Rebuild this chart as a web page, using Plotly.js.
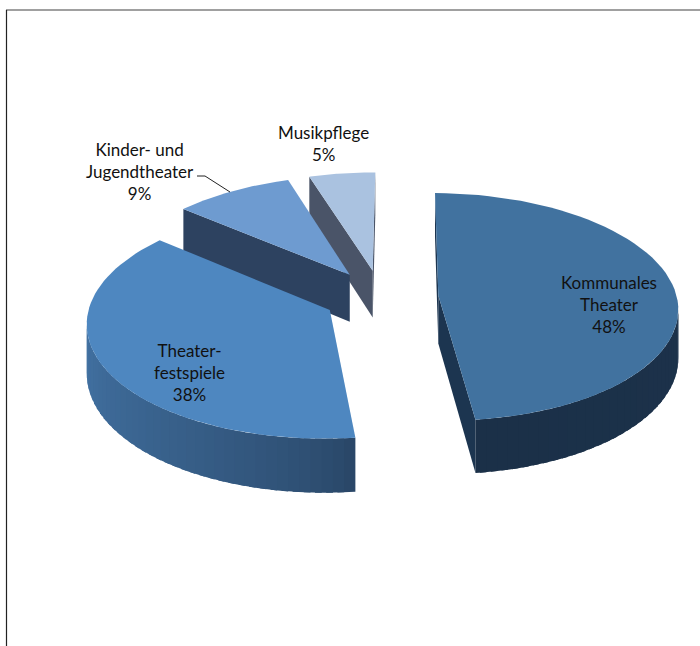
<!DOCTYPE html>
<html>
<head>
<meta charset="utf-8">
<script src="https://cdn.plot.ly/plotly-3.0.1.min.js"></script>
<style>html,body{margin:0;padding:0;background:#fff}#chart{width:700px;height:646px}</style>
</head>
<body>
<div id="chart"></div>
<script>
// Budget shares, clockwise from twelve o'clock
var categories = ['Kommunales Theater', 'Theaterfestspiele', 'Kinder- und Jugendtheater', 'Musikpflege'];
var shares = [48, 38, 9, 5];
var labelLines = [['Kommunales', 'Theater'], ['Theater-', 'festspiele'], ['Kinder- und', 'Jugendtheater'], ['Musikpflege']];
var labelX = [609, 189, 140, 323];
var labelY = [304, 372.5, 171, 143.5];

// Face colours per slice
var topColors = ['#41729f', '#4e87c0', '#6e9bd0', '#aac2e0'];
var startFace = ['#1c3550', '#2a4a6c', '#2d4260', '#4a5468'];
var endFace = ['#1c3550', '#2a4a6c', '#2d4260', '#4a5468'];
// Outer wall shading: colour at slice start and at slice end
var rimStart = [[30, 54, 80], [40, 68, 100], [40, 70, 100], [60, 70, 90]];
var rimEnd = [[27, 48, 72], [74, 128, 182], [40, 70, 100], [60, 70, 90]];

// Projection of the exploded disc onto the page
var cx = 381, cy = 297, rx = 238.5, ry = 113, depth = 48, persp = 0.1, pull = 0.241, turn = 0.5;

function project(u, v, lowered) {
  var f = 1 / (1 + persp * v);
  return [cx + rx * u * f, cy - ry * v * f + (lowered ? depth * f : 0)];
}

var traces = [];
function addFace(points, color) {
  var xs = points.map(function (p) { return p[0]; });
  var ys = points.map(function (p) { return p[1]; });
  xs.push(xs[0]); ys.push(ys[0]);
  traces.push({
    type: 'scatter', mode: 'lines', x: xs, y: ys, fill: 'toself', fillcolor: color,
    line: {width: 0}, hoverinfo: 'skip', showlegend: false
  });
}
// Signed area of a quad on the page (y grows downward); positive when its outer side is visible
function facesViewer(q) {
  var a = 0;
  for (var i = 0; i < q.length; i++) {
    var n = q[(i + 1) % q.length];
    a += q[i][0] * n[1] - n[0] * q[i][1];
  }
  return -a;
}

// Slices are painted from back to front
var spans = [], acc = 0;
var turnRad = turn * Math.PI / 180;
shares.forEach(function (s) { spans.push([acc, acc + s]); acc += s; });
[3, 2, 1, 0].forEach(function (i) {
  var t0 = spans[i][0] / 100 * 2 * Math.PI + turnRad, t1 = spans[i][1] / 100 * 2 * Math.PI + turnRad, mid = (t0 + t1) / 2;
  var ou = pull * Math.sin(mid), ov = pull * Math.cos(mid);
  var rim = function (t, low) { return project(ou + Math.sin(t), ov + Math.cos(t), low); };
  var apexT = project(ou, ov, false), apexB = project(ou, ov, true);

  // Cut faces
  var qs = [apexT, rim(t0, false), rim(t0, true), apexB];
  if (facesViewer(qs) > 0) addFace(qs, startFace[i]);
  var qe = [rim(t1, false), apexT, apexB, rim(t1, true)];
  if (facesViewer(qe) > 0) addFace(qe, endFace[i]);

  // Outer wall in narrow strips, each overlapping the next, so the shading can vary along it
  var steps = Math.max(6, Math.round(shares[i] * 1.5));
  for (var k = 0; k < steps; k++) {
    var a = t0 + (t1 - t0) * k / steps;
    var b = t0 + (t1 - t0) * Math.min(k + 1.6, steps) / steps;
    var q = [rim(a, false), rim(b, false), rim(b, true), rim(a, true)];
    if (facesViewer(q) > 0) {
      var w = Math.pow((k + 0.5) / steps, 0.65);
      var c = rimStart[i].map(function (v, j) { return Math.round(v + (rimEnd[i][j] - v) * w); });
      addFace(q, 'rgb(' + c.join(',') + ')');
    }
  }

  // Top surface
  var top = [apexT];
  for (var m = 0; m <= 60; m++) top.push(rim(t0 + (t1 - t0) * m / 60, false));
  addFace(top, topColors[i]);
});

// Leader line for the children's theatre label
traces.push({
  type: 'scatter', mode: 'lines', x: [197, 205, 230], y: [176, 176, 192],
  line: {color: '#222', width: 1}, hoverinfo: 'skip', showlegend: false
});

var annotations = categories.map(function (name, i) {
  return {
    x: labelX[i], y: labelY[i], xref: 'x', yref: 'y', showarrow: false, align: 'center',
    text: labelLines[i].concat(shares[i] + '%').join('<br>'),
    font: {family: 'Lato, Carlito, sans-serif', size: 17, color: '#111'}
  };
});

var layout = {
  width: 700, height: 646, margin: {l: 0, r: 0, t: 0, b: 0},
  paper_bgcolor: '#fff', plot_bgcolor: '#fff', showlegend: false,
  xaxis: {range: [0, 700], visible: false, fixedrange: true},
  yaxis: {range: [646, 0], visible: false, fixedrange: true},
  annotations: annotations,
  shapes: [
    {type: 'line', xref: 'x', yref: 'y', x0: 6, x1: 700, y0: 10, y1: 10, line: {color: '#808080', width: 1.5}},
    {type: 'line', xref: 'x', yref: 'y', x0: 6.5, x1: 6.5, y0: 10, y1: 646, line: {color: '#222', width: 1.2}}
  ]
};
Plotly.newPlot('chart', traces, layout, {displayModeBar: false, responsive: false});
</script>
</body>
</html>
